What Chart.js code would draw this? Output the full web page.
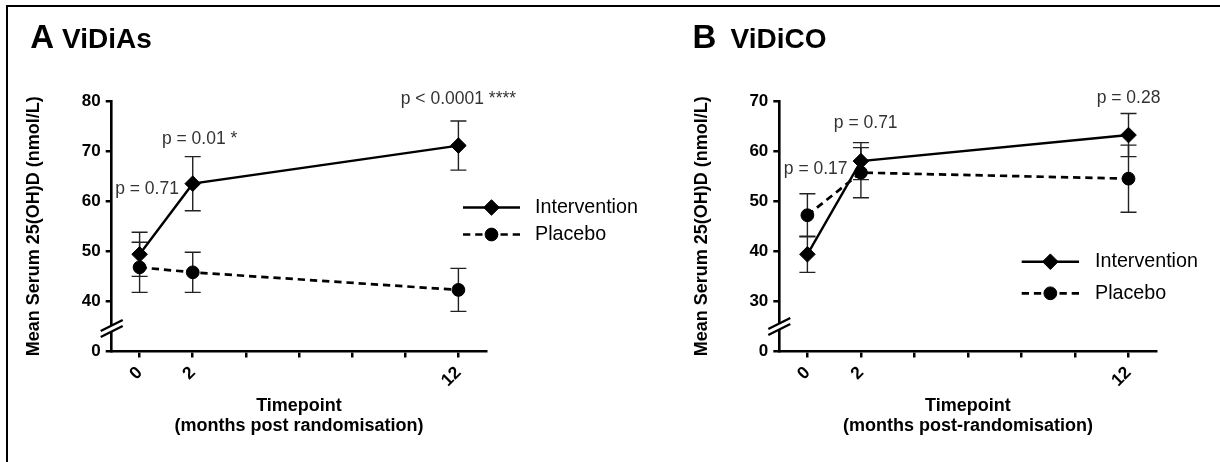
<!DOCTYPE html>
<html>
<head>
<meta charset="utf-8">
<title>Serum 25(OH)D – ViDiAs and ViDiCO</title>
<script src="https://cdn.jsdelivr.net/npm/chart.js@4.4.1/dist/chart.umd.min.js"></script>
<style>
  html, body { margin: 0; padding: 0; background: #fff; width: 1220px; height: 462px; overflow: hidden; }
  #frame { position: absolute; left: 5.5px; top: 5px; width: 1400px; height: 700px;
           border-left: 2.2px solid #000; border-top: 2.6px solid #000; }
  .panel { position: absolute; top: 0; height: 462px; }
  #wrapA { left: 0; width: 700px; }
  #wrapB { left: 640px; width: 580px; }
</style>
</head>
<body>
<div id="frame"></div>
<div class="panel" id="wrapA"><canvas id="chartA"></canvas></div>
<div class="panel" id="wrapB"><canvas id="chartB"></canvas></div>
<script>
// Time points (months post randomisation) and the x-axis tick positions
const timepoints = [0, 2, 12];
const xTickValues = [0, 2, 4, 6, 8, 10, 12];
const seriesNames = ['Intervention', 'Placebo'];

// ViDiAs: mean serum 25(OH)D with error (nmol/L)
const vidiasIntervention = [49.4, 63.5, 71.1];
const vidiasInterventionErr = [4.4, 5.4, 4.9];
const vidiasPlacebo = [46.8, 45.8, 42.3];
const vidiasPlaceboErr = [5.0, 4.0, 4.3];
// broken axis: the bottom tick stands for 0
const vidiasYTicks = [30, 40, 50, 60, 70, 80];
const vidiasYTickLabels = ['0', '40', '50', '60', '70', '80'];
const vidiasPValues = ['p = 0.71', 'p = 0.01 *', 'p < 0.0001 ****'];

// ViDiCO: mean serum 25(OH)D with error (nmol/L)
const vidicoIntervention = [39.4, 58.0, 63.2];
const vidicoInterventionErr = [3.6, 3.7, 4.3];
const vidicoPlacebo = [47.2, 55.7, 54.5];
const vidicoPlaceboErr = [4.3, 5.0, 6.7];
const vidicoYTicks = [20, 30, 40, 50, 60, 70];
const vidicoYTickLabels = ['0', '30', '40', '50', '60', '70'];
const vidicoPValues = ['p = 0.17', 'p = 0.71', 'p = 0.28'];

const FONT = "'Liberation Sans', Arial, Helvetica, sans-serif";
Chart.defaults.font.family = FONT;
Chart.defaults.color = '#000';

// vertical error bars with caps, drawn under the markers
function errorBarPlugin() {
  return {
    id: 'errorBars',
    beforeDatasetsDraw(chart) {
      const { ctx, scales: { x, y } } = chart;
      ctx.save();
      ctx.strokeStyle = '#222';
      ctx.lineWidth = 1.4;
      chart.data.datasets.forEach(ds => {
        ds.data.forEach((pt, i) => {
          const e = ds.errors[i];
          const px = x.getPixelForValue(pt.x);
          const yTop = y.getPixelForValue(pt.y + e);
          const yBot = y.getPixelForValue(pt.y - e);
          ctx.beginPath();
          ctx.moveTo(px, yTop); ctx.lineTo(px, yBot);
          ctx.moveTo(px - 8, yTop); ctx.lineTo(px + 8, yTop);
          ctx.moveTo(px - 8, yBot); ctx.lineTo(px + 8, yBot);
          ctx.stroke();
        });
      });
      ctx.restore();
    }
  };
}

// double slash marking the break in the y axis
function axisBreakPlugin(breakValue) {
  return {
    id: 'axisBreak',
    afterDraw(chart) {
      const { ctx, chartArea, scales: { y } } = chart;
      const cx = chartArea.left;
      const cy = y.getPixelForValue(breakValue);
      const dx = 11, dy = 5.5, sep = 3;
      ctx.save();
      ctx.fillStyle = '#fff';
      ctx.beginPath();
      ctx.moveTo(cx - dx, cy - sep + dy);
      ctx.lineTo(cx + dx, cy - sep - dy);
      ctx.lineTo(cx + dx, cy + sep - dy);
      ctx.lineTo(cx - dx, cy + sep + dy);
      ctx.closePath();
      ctx.fill();
      ctx.strokeStyle = '#000';
      ctx.lineWidth = 2.4;
      ctx.beginPath();
      ctx.moveTo(cx - dx, cy - sep + dy); ctx.lineTo(cx + dx, cy - sep - dy);
      ctx.moveTo(cx - dx, cy + sep + dy); ctx.lineTo(cx + dx, cy + sep - dy);
      ctx.stroke();
      ctx.restore();
    }
  };
}

// legend rows: line sample with the marker in the middle, then the label
function seriesLegendPlugin(pos) {
  return {
    id: 'seriesLegend',
    afterDraw(chart) {
      const ctx = chart.ctx;
      const mid = (pos.x1 + pos.x2) / 2;
      chart.data.datasets.forEach((ds, i) => {
        const yy = pos.rows[i];
        ctx.save();
        ctx.strokeStyle = ds.borderColor;
        ctx.lineWidth = ds.borderWidth;
        ctx.setLineDash(ds.borderDash || []);
        ctx.beginPath();
        ctx.moveTo(pos.x1, yy); ctx.lineTo(mid, yy);
        ctx.moveTo(pos.x2, yy); ctx.lineTo(mid, yy);
        ctx.stroke();
        ctx.setLineDash([]);
        ctx.fillStyle = ds.pointBackgroundColor;
        ctx.strokeStyle = ds.pointBorderColor;
        ctx.lineWidth = ds.pointBorderWidth;
        Chart.helpers.drawPoint(ctx, {
          pointStyle: ds.pointStyle, radius: ds.pointRadius,
          borderWidth: ds.pointBorderWidth, rotation: 0
        }, mid, yy);
        ctx.fillStyle = '#000';
        ctx.font = '19.7px ' + FONT;
        ctx.textBaseline = 'middle';
        ctx.textAlign = 'left';
        ctx.fillText(ds.label, pos.textX, yy);
        ctx.restore();
      });
    }
  };
}

// p-value notes anchored in data coordinates
function pValuePlugin(notes) {
  return {
    id: 'pValues',
    afterDraw(chart) {
      const { ctx, scales: { x, y } } = chart;
      ctx.save();
      ctx.fillStyle = '#333';
      ctx.font = '17.5px ' + FONT;
      ctx.textBaseline = 'middle';
      notes.forEach(n => {
        ctx.textAlign = n.align;
        ctx.fillText(n.text, x.getPixelForValue(n.x), y.getPixelForValue(n.y));
      });
      ctx.restore();
    }
  };
}

// panel heading: large letter followed by the study name
function headingPlugin(h) {
  return {
    id: 'heading',
    afterDraw(chart) {
      const ctx = chart.ctx;
      ctx.save();
      ctx.fillStyle = '#000';
      ctx.textBaseline = 'alphabetic';
      ctx.textAlign = 'left';
      ctx.font = 'bold 33px ' + FONT;
      ctx.fillText(h.letter, h.letterX, 48);
      ctx.font = 'bold 28px ' + FONT;
      ctx.fillText(h.name, h.nameX, 48);
      ctx.restore();
    }
  };
}

function makeChart(canvasId, cfg) {
  const axisGrid = {
    display: true, drawOnChartArea: false, drawTicks: true,
    tickLength: 6, tickWidth: 2.5, lineWidth: 2.5, tickColor: '#000', color: '#000'
  };
  const axisBorder = { display: true, color: '#000', width: 2.6 };
  return new Chart(document.getElementById(canvasId), {
    type: 'line',
    data: {
      datasets: [
        {
          label: seriesNames[0],
          data: timepoints.map((t, i) => ({ x: t, y: cfg.intervention[i] })),
          errors: cfg.interventionErr,
          borderColor: '#000', backgroundColor: '#000', borderWidth: 2.4,
          pointStyle: 'rectRot', pointRadius: 7.8,
          pointBackgroundColor: '#000', pointBorderColor: '#000', pointBorderWidth: 1,
          tension: 0
        },
        {
          label: seriesNames[1],
          data: timepoints.map((t, i) => ({ x: t, y: cfg.placebo[i] })),
          errors: cfg.placeboErr,
          borderColor: '#000', backgroundColor: '#000', borderWidth: 2.7,
          borderDash: [7.3, 4.9],
          pointStyle: 'circle', pointRadius: 6.4,
          pointBackgroundColor: '#000', pointBorderColor: '#000', pointBorderWidth: 1,
          tension: 0
        }
      ]
    },
    options: {
      responsive: true,
      maintainAspectRatio: false,
      animation: false,
      events: [],
      layout: { padding: cfg.padding },
      plugins: {
        legend: { display: false },
        tooltip: { enabled: false },
        title: { display: false }
      },
      scales: {
        x: {
          type: 'linear', min: -1.05, max: 13.05,
          afterBuildTicks: s => { s.ticks = xTickValues.map(v => ({ value: v })); },
          afterFit: s => { s.height = 110.5; },
          ticks: {
            autoSkip: false, minRotation: 45, maxRotation: 45, padding: 5,
            color: '#000', font: { size: 17.5, weight: 'bold' },
            callback: v => (timepoints.includes(v) ? String(v) : '')
          },
          grid: axisGrid,
          border: axisBorder,
          title: {
            display: true, text: ['Timepoint', cfg.xSubtitle], color: '#000',
            font: { size: 18, weight: 'bold', lineHeight: 20 / 18 },
            padding: { top: 0, bottom: 26 }
          }
        },
        y: {
          type: 'linear',
          min: cfg.yTicks[0], max: cfg.yTicks[cfg.yTicks.length - 1],
          afterBuildTicks: s => { s.ticks = cfg.yTicks.map(v => ({ value: v })); },
          afterFit: s => { s.width = 111.7; },
          ticks: {
            padding: 5, color: '#000', font: { size: 17, weight: 'bold' },
            callback: v => cfg.yTickLabels[cfg.yTicks.indexOf(v)]
          },
          grid: axisGrid,
          border: axisBorder,
          title: {
            display: true, text: 'Mean Serum 25(OH)D (nmol/L)', color: '#000',
            font: { size: 18, weight: 'bold' },
            padding: { top: 23.4, bottom: 0 }
          }
        }
      }
    },
    plugins: [
      errorBarPlugin(),
      axisBreakPlugin(cfg.breakValue),
      pValuePlugin(cfg.notes),
      seriesLegendPlugin(cfg.legend),
      headingPlugin(cfg.heading)
    ]
  });
}

makeChart('chartA', {
  intervention: vidiasIntervention, interventionErr: vidiasInterventionErr,
  placebo: vidiasPlacebo, placeboErr: vidiasPlaceboErr,
  yTicks: vidiasYTicks, yTickLabels: vidiasYTickLabels,
  breakValue: 34.6,
  xSubtitle: '(months post randomisation)',
  padding: { left: 0, top: 101, right: 213.7, bottom: 0 },
  notes: [
    { x: 0.28, y: 62.5, text: vidiasPValues[0], align: 'center' },
    { x: 0.84, y: 72.3, text: vidiasPValues[1], align: 'left' },
    { x: 12, y: 80.3, text: vidiasPValues[2], align: 'center' }
  ],
  legend: { x1: 463, x2: 520, textX: 535, rows: [207.5, 234.5] },
  heading: { letter: 'A', letterX: 30.3, name: 'ViDiAs', nameX: 62 }
});

makeChart('chartB', {
  intervention: vidicoIntervention, interventionErr: vidicoInterventionErr,
  placebo: vidicoPlacebo, placeboErr: vidicoPlaceboErr,
  yTicks: vidicoYTicks, yTickLabels: vidicoYTickLabels,
  breakValue: 25,
  xSubtitle: '(months post-randomisation)',
  padding: { left: 27.6, top: 101, right: 63.4, bottom: 0 },
  notes: [
    { x: 0.31, y: 56.4, text: vidicoPValues[0], align: 'center' },
    { x: 2.18, y: 65.5, text: vidicoPValues[1], align: 'center' },
    { x: 12, y: 70.5, text: vidicoPValues[2], align: 'center' }
  ],
  legend: { x1: 381.7, x2: 439, textX: 455, rows: [261.7, 293.3] },
  heading: { letter: 'B', letterX: 52.4, name: 'ViDiCO', nameX: 90.6 }
});
</script>
</body>
</html>
